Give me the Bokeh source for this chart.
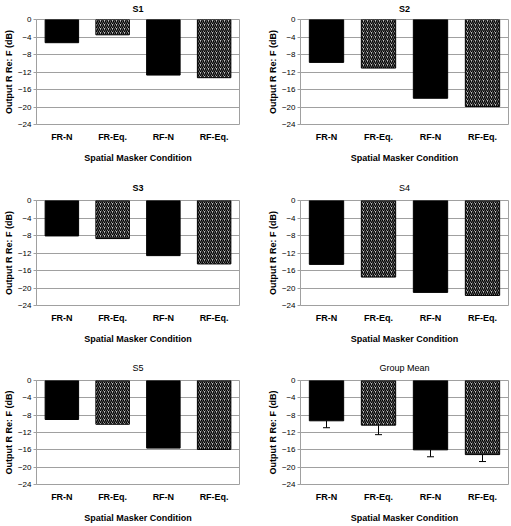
from bokeh.plotting import figure
from bokeh.models import (FixedTicker, Whisker, TeeHead, ColumnDataSource, Range1d,
                          FactorRange, LinearAxis)
from bokeh.layouts import gridplot
from bokeh.embed import file_html
from bokeh.resources import INLINE

# ---- data ----
conditions = ["FR-N", "FR-Eq.", "RF-N", "RF-Eq."]
panel_titles = ["S1", "S2", "S3", "S4", "S5", "Group Mean"]
title_bold = [True, True, True, False, False, False]
s1 = [-5.3, -3.5, -12.7, -13.3]
s2 = [-9.8, -11.1, -18.0, -19.9]
s3 = [-8.1, -8.7, -12.6, -14.5]
s4 = [-14.6, -17.5, -21.0, -21.7]
s5 = [-9.0, -10.1, -15.6, -15.9]
group_mean = [-9.3, -10.3, -16.0, -17.1]
group_se = [1.6, 2.2, 1.6, 1.6]
y_ticks = [0, -4, -8, -12, -16, -20, -24]
y_min, y_max = -24, 0
x_label = "Spatial Masker Condition"
y_label = "Output R Re: F (dB)"
solid_conditions = ["FR-N", "RF-N"]
hatched_conditions = ["FR-Eq.", "RF-Eq."]

panel_values = [s1, s2, s3, s4, s5, group_mean]

FONT = "Liberation Sans"
GRID = "#a0a0a0"

# layout per column / row
col_borders = [(32, 16, 255), (45, 2, 255)]                   # left, right, width
row_borders = [(19, 51, 175), (25, 50, 180), (25, 40, 170)]   # top, bottom, height
title_standoff = [6, 8, 8]


def make_panel(i):
    ci, ri = i % 2, i // 2
    bl, br, w = col_borders[ci]
    bt, bb, h = row_borders[ri]
    vals = panel_values[i]
    p = figure(x_range=FactorRange(*conditions, range_padding=0),
               y_range=Range1d(y_min, y_max),
               width=w, height=h, output_backend="svg", toolbar_location=None,
               min_border_left=bl, min_border_right=br,
               min_border_top=bt, min_border_bottom=bb)

    p.outline_line_color = GRID
    p.outline_line_width = 1
    p.xgrid.grid_line_color = None
    p.ygrid.grid_line_color = GRID
    p.ygrid.ticker = FixedTicker(ticks=y_ticks)

    p.yaxis.ticker = FixedTicker(ticks=y_ticks)
    p.yaxis.axis_line_color = GRID
    p.yaxis.major_tick_line_color = GRID
    p.yaxis.major_tick_out = 3
    p.yaxis.major_tick_in = 0
    p.yaxis.minor_tick_line_color = None
    p.yaxis.minor_tick_out = 0
    p.yaxis.major_label_text_font = FONT
    p.yaxis.major_label_text_font_size = "8px"
    p.yaxis.major_label_text_color = "#000000"
    p.yaxis.major_label_standoff = 2
    p.yaxis.axis_label = y_label
    p.yaxis.axis_label_text_font = FONT
    p.yaxis.axis_label_text_font_size = "9px"
    p.yaxis.axis_label_text_font_style = "bold"
    p.yaxis.axis_label_text_color = "#000000"
    p.yaxis.axis_label_standoff = 1

    p.xaxis.axis_line_color = None
    p.xaxis.major_tick_line_color = None
    p.xaxis.major_tick_out = 0
    p.xaxis.major_tick_in = 0
    p.xaxis.minor_tick_line_color = None
    p.xaxis.minor_tick_out = 0
    p.xaxis.major_label_text_font = FONT
    p.xaxis.major_label_text_font_size = "9px"
    p.xaxis.major_label_text_font_style = "bold"
    p.xaxis.major_label_text_color = "#000000"
    p.xaxis.major_label_standoff = 7
    p.xaxis.axis_label = x_label
    p.xaxis.axis_label_text_font = FONT
    p.xaxis.axis_label_text_font_size = "9px"
    p.xaxis.axis_label_text_font_style = "bold"
    p.xaxis.axis_label_text_color = "#000000"
    p.xaxis.axis_label_standoff = 8

    # panel title: label of an otherwise empty (tick-less) axis above the frame
    top_axis = LinearAxis(
        ticker=FixedTicker(ticks=[]),
        axis_label=panel_titles[i],
        axis_label_text_font=FONT, axis_label_text_font_size="9px",
        axis_label_text_font_style="bold" if title_bold[i] else "normal",
        axis_label_text_color="#000000", axis_label_standoff=title_standoff[ri],
        axis_line_color=None, major_tick_line_color=None, minor_tick_line_color=None,
        major_tick_out=0, major_tick_in=0, minor_tick_out=0, minor_tick_in=0,
        major_label_standoff=0)
    p.add_layout(top_axis, "above")

    solid_src = ColumnDataSource(dict(
        x=[c for c in conditions if c in solid_conditions],
        top=[v for c, v in zip(conditions, vals) if c in solid_conditions]))
    hatch_src = ColumnDataSource(dict(
        x=[c for c in conditions if c in hatched_conditions],
        top=[v for c, v in zip(conditions, vals) if c in hatched_conditions]))
    p.vbar(x="x", top="top", bottom=0, width=0.66, source=solid_src,
           fill_color="black", line_color="black", line_width=1)
    p.vbar(x="x", top="top", bottom=0, width=0.66, source=hatch_src,
           fill_color="#c0c0c0", line_color="black", line_width=1,
           hatch_pattern="/", hatch_color="black", hatch_scale=4, hatch_weight=1.4)

    if panel_titles[i] == "Group Mean":
        err_src = ColumnDataSource(dict(
            x=conditions,
            upper=group_mean,
            lower=[m - e for m, e in zip(group_mean, group_se)]))
        wk = Whisker(base="x", upper="upper", lower="lower", source=err_src,
                     line_color="black", line_width=1,
                     upper_head=None,
                     lower_head=TeeHead(size=7, line_color="black", line_width=1))
        p.add_layout(wk)
    return p


panels = [make_panel(i) for i in range(6)]
grid = gridplot([[panels[0], panels[1]], [panels[2], panels[3]], [panels[4], panels[5]]],
                toolbar_location=None)

open("out.html", "w").write(file_html(grid, INLINE))
